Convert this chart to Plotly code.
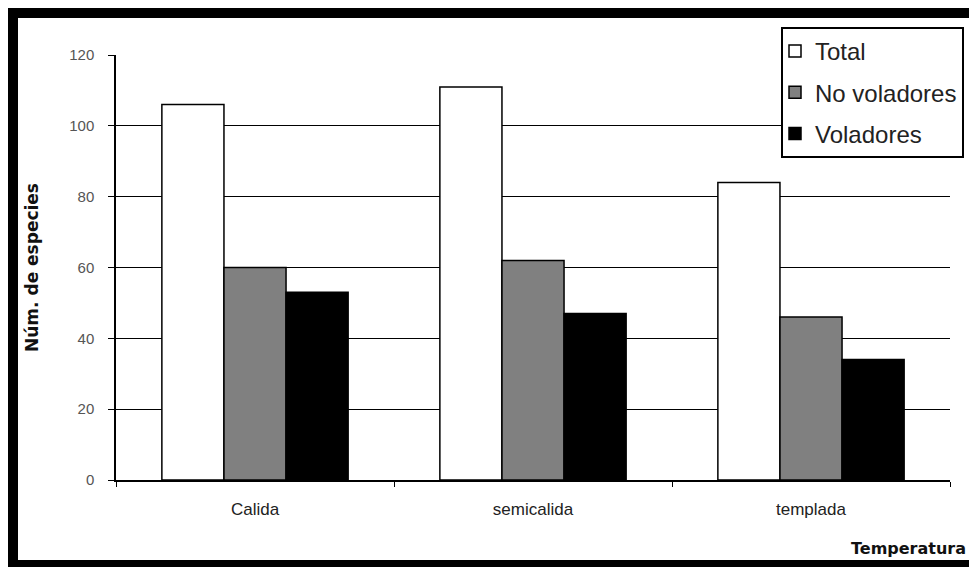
import plotly.graph_objects as go

categories = ["Calida", "semicalida", "templada"]
total = [106, 111, 84]
no_voladores = [60, 62, 46]
voladores = [53, 47, 34]
y_ticks = [0, 20, 40, 60, 80, 100, 120]

# the page has an 8px body margin, so the figure starts at page (8, 8)
OFF = 8
PAGE_W, PAGE_H = 977, 567
W, H = PAGE_W - OFF, PAGE_H - OFF
# plot area in page pixels
PL, PR, PT, PB = 116, 950, 55, 480
PW, PH = PR - PL, PB - PT


def px_x(p):
    return (p - PL) / PW


def px_y(p):
    return (PB - p) / PH


fig = go.Figure()
series = [
    ("Total", total, "#ffffff"),
    ("No voladores", no_voladores, "#808080"),
    ("Voladores", voladores, "#000000"),
]
for name, vals, col in series:
    fig.add_trace(go.Bar(
        x=categories, y=vals, name=name, legendgroup=name,
        marker=dict(color=col, line=dict(color="#000000", width=1.5)),
    ))

fig.update_layout(
    width=W, height=H,
    margin=dict(l=PL - OFF, r=PAGE_W - PR, t=PT - OFF, b=PAGE_H - PB),
    paper_bgcolor="#ffffff", plot_bgcolor="#ffffff",
    barmode="group", bargap=0.33, bargroupgap=0,
    font=dict(family="Liberation Sans, Arial, sans-serif", color="#222222"),
    showlegend=True,
    legend=dict(
        x=px_x(781), y=px_y(27), xanchor="left", yanchor="top",
        bgcolor="#ffffff", bordercolor="#000000", borderwidth=2,
        font=dict(size=24, color="#222222"),
        traceorder="grouped", tracegroupgap=7, indentation=-8,
    ),
    xaxis=dict(
        showline=True, linecolor="#000000", linewidth=1.5,
        ticks="outside", tickson="boundaries", ticklen=5, tickcolor="#000000",
        tickfont=dict(size=17, color="#222222"),
        ticklabelstandoff=13,
        showgrid=False,
    ),
    yaxis=dict(
        range=[0, 120], tickvals=y_ticks,
        showline=True, linecolor="#000000", linewidth=1.5,
        ticks="outside", ticklen=6, tickcolor="#000000",
        tickfont=dict(size=15, color="#555555"),
        ticklabelstandoff=11,
        showgrid=True, gridcolor="#000000", gridwidth=1.2,
        zeroline=False,
        title=dict(text="<b>Núm. de especies</b>",
                   font=dict(family="DejaVu Sans, Verdana, sans-serif", size=17, color="#111111"),
                   standoff=26),
    ),
    annotations=[dict(
        text="<b>Temperatura</b>", xref="paper", yref="paper",
        x=px_x(968), y=px_y(548), xanchor="right", yanchor="middle",
        showarrow=False,
        font=dict(family="DejaVu Sans, Verdana, sans-serif", size=16, color="#111111"),
    )],
    shapes=[dict(
        type="rect", xref="paper", yref="paper", layer="above",
        x0=px_x(13), x1=px_x(976), y0=px_y(565), y1=px_y(13),
        line=dict(color="#000000", width=10),
    )],
)

fig.write_html("out.html")
